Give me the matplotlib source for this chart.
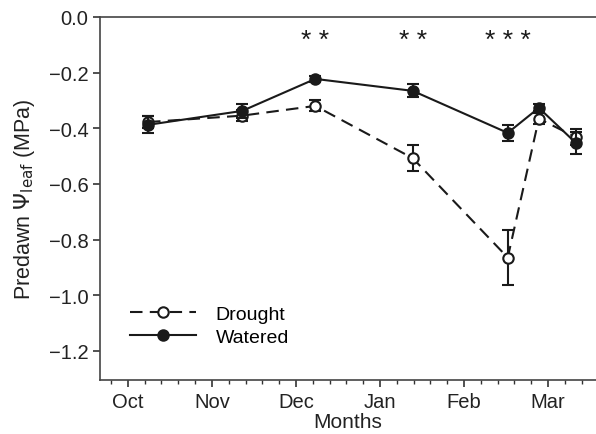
import numpy as np
import matplotlib.pyplot as plt
from matplotlib.ticker import MultipleLocator

plt.rcParams['font.family'] = ['Liberation Sans', 'DejaVu Sans']

# Sampling dates as month offsets from 1 Oct
months = ['Oct', 'Nov', 'Dec', 'Jan', 'Feb', 'Mar']
dates = [0.24, 1.36, 2.23, 3.39, 4.52, 4.89, 5.33]

# Predawn leaf water potential (MPa), mean and SE
drought = [-0.378, -0.355, -0.320, -0.508, -0.865, -0.366, -0.432]
drought_se = [0.022, 0.020, 0.020, 0.047, 0.099, 0.020, 0.030]
watered = [-0.388, -0.338, -0.223, -0.266, -0.417, -0.327, -0.453]
watered_se = [0.030, 0.025, 0.010, 0.023, 0.030, 0.013, 0.040]

# Significance marks
sig_x = [2.23, 3.39, 4.52]
sig_txt = ['**', '**', '***']

yticks = [0.0, -0.2, -0.4, -0.6, -0.8, -1.0, -1.2]

fig = plt.figure(figsize=(5.96, 4.35), dpi=100)
ax = fig.add_axes([0.168, 0.124, 0.832, 0.835])

eb_d = ax.errorbar(dates, drought, yerr=drought_se, color='#1a1a1a', ls=(0, (6, 3.5)),
                   lw=1.5, marker='o', ms=7.5, mfc='white', mec='#1a1a1a', mew=1.5,
                   capsize=4.5, capthick=1.5, elinewidth=1.5, label='Drought', zorder=2)
eb_w = ax.errorbar(dates, watered, yerr=watered_se, color='#1a1a1a', ls='-',
                   lw=1.5, marker='o', ms=7.5, mfc='#1a1a1a', mec='#1a1a1a', mew=1.5,
                   capsize=4.5, capthick=1.5, elinewidth=1.5, label='Watered', zorder=3)

for x, t in zip(sig_x, sig_txt):
    ax.text(x, -0.085, ' '.join(t), ha='center', va='center', fontsize=19,
            color='#1a1a1a')

ax.set_xlim(-0.33, 5.57)
ax.set_ylim(-1.305, 0)
ax.set_xticks(range(len(months)))
ax.set_xticklabels(months)
ax.xaxis.set_minor_locator(MultipleLocator(0.2))
ax.set_yticks(yticks)
ax.set_yticklabels([('%.1f' % v).replace('-', '\u2212') for v in yticks])

ax.tick_params(axis='both', which='major', direction='out', length=5,
               width=1.2, labelsize=14.5, color='#333333', labelcolor='#222222')
ax.tick_params(axis='x', which='minor', direction='out', length=3, width=1,
               color='#333333')
for s in ['left', 'top', 'bottom']:
    ax.spines[s].set_linewidth(1.2)
    ax.spines[s].set_color('#444444')
ax.spines['right'].set_visible(False)

ax.set_xlabel('Months', fontsize=15, labelpad=1, color='#222222')
ax.set_ylabel(r'Predawn $\Psi_{\mathrm{leaf}}$ (MPa)', fontsize=15.5,
              labelpad=8, color='#222222')

ax.legend(handles=[eb_d.lines[0], eb_w.lines[0]], labels=['Drought', 'Watered'],
          loc='upper left', bbox_to_anchor=(0.025, 0.255), frameon=False,
          fontsize=14, handlelength=3.4, handletextpad=1.0, labelspacing=0.3)

fig.savefig('out.png', dpi=100)
